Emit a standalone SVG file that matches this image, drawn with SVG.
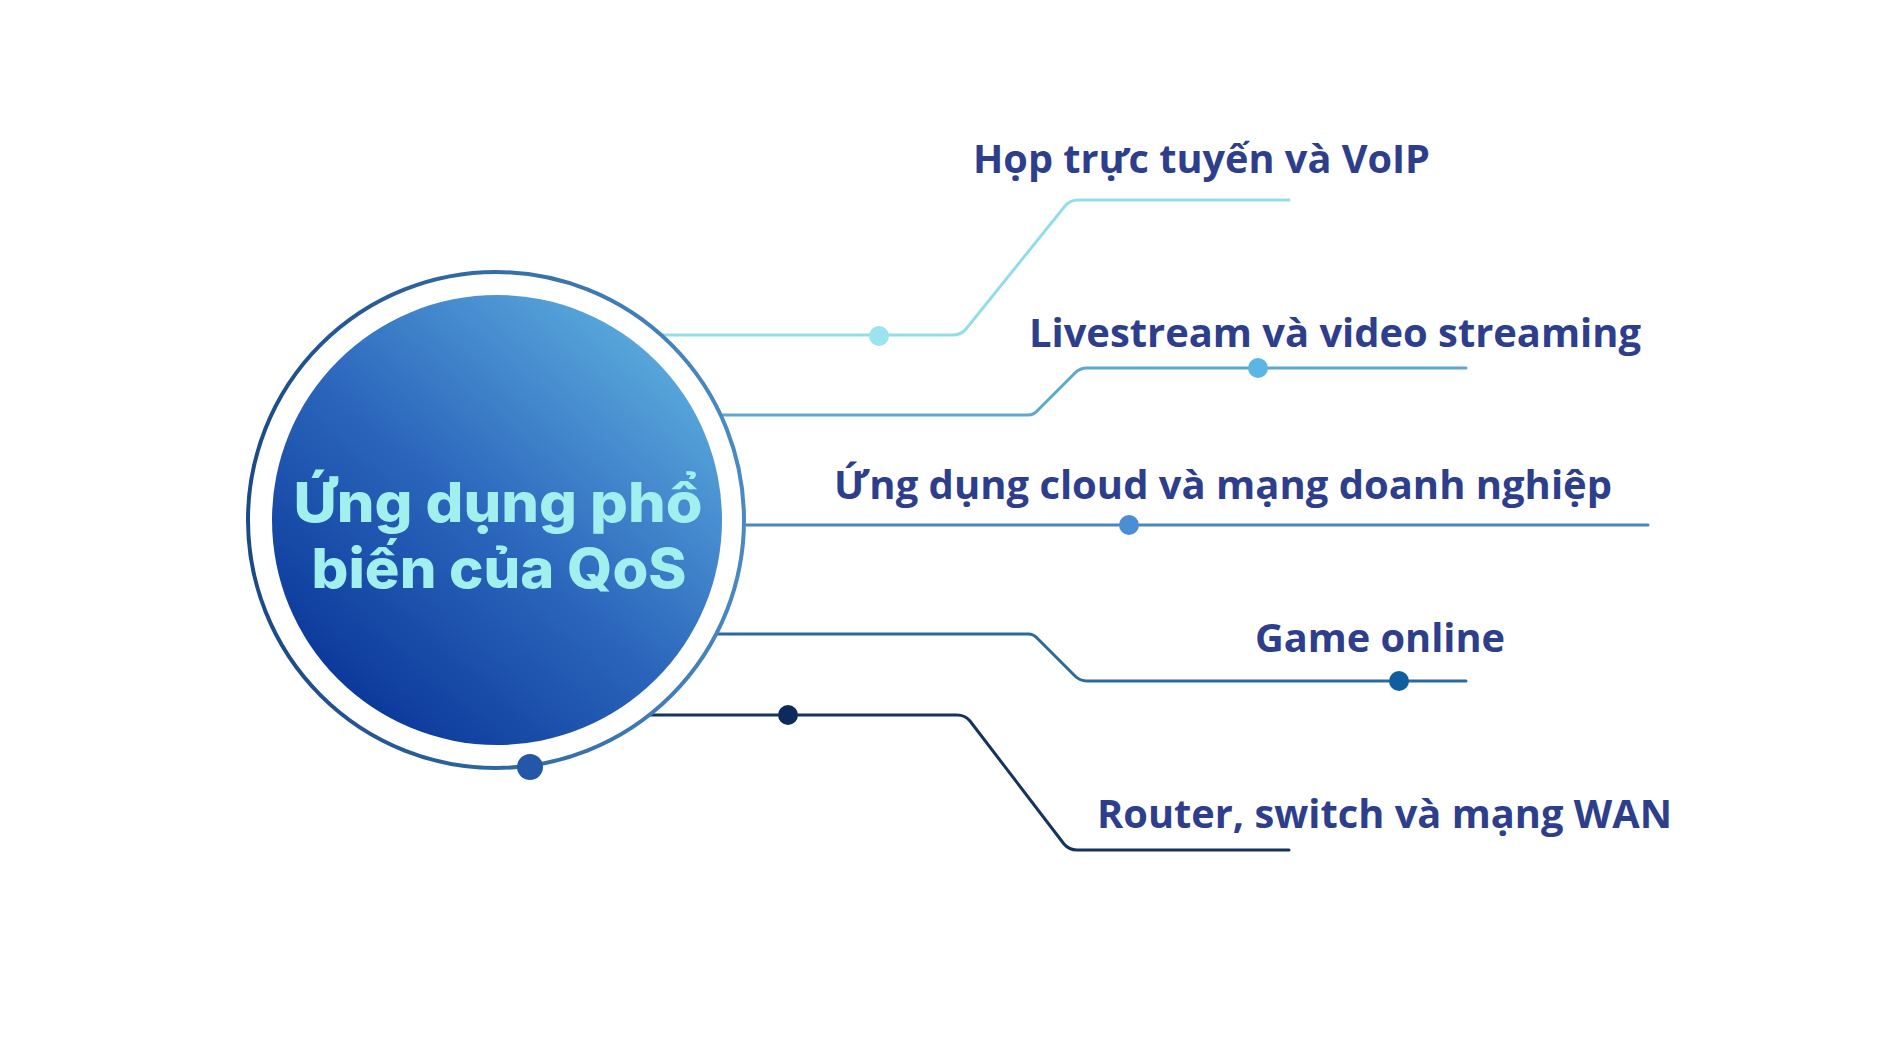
<svg xmlns="http://www.w3.org/2000/svg" width="1896" height="1050" viewBox="0 0 1896 1050">
<defs>
<linearGradient id="fillG" x1="0.85" y1="0.1" x2="0.15" y2="0.9">
<stop offset="0" stop-color="#5aa9dc"/>
<stop offset="0.5" stop-color="#2d68bd"/>
<stop offset="1" stop-color="#0a379a"/>
</linearGradient>
<linearGradient id="ringG" x1="0" y1="0.5" x2="1" y2="0.4">
<stop offset="0" stop-color="#1b4a86"/>
<stop offset="1" stop-color="#4a8ac2"/>
</linearGradient>
<style>
.lbl{font-family:"Open Sans","Liberation Sans",sans-serif;font-weight:700;font-size:40px;fill:#2d3e8c}
.ttl{font-family:Inter,"Open Sans",sans-serif;font-weight:800;font-size:55px;fill:#a2eff0;text-anchor:middle}
.ln{fill:none;stroke-width:3;stroke-linejoin:round;stroke-linecap:round}
</style>
</defs>
<rect width="1896" height="1050" fill="#ffffff"/>
<g id="connectors">
<path class="ln" stroke="#93dde9" d="M663,335 H953 Q961,335 966,329 L1065,206 Q1070,200 1078,200 H1289"/>
<circle cx="879" cy="336" r="10" fill="#9be3ee"/>
<path class="ln" stroke="#5ea7d2" d="M722,415 H1028 Q1034,415 1038,410 L1075,373 Q1080,368 1087,368 H1466"/>
<circle cx="1258" cy="368" r="10" fill="#5cb6e4"/>
<path class="ln" stroke="#4e86b8" d="M745,525 H1648"/>
<circle cx="1129" cy="525" r="10" fill="#4a8fd6"/>
<path class="ln" stroke="#2a6a9c" d="M717,634 H1028 Q1034,634 1038,639 L1075,676 Q1080,681 1087,681 H1466"/>
<circle cx="1399" cy="681" r="10" fill="#0f5e9f"/>
<path class="ln" stroke="#14335f" d="M651,715 H957 Q965,715 970,721 L1064,844 Q1069,850 1077,850 H1289"/>
<circle cx="788" cy="715" r="10" fill="#0c2a5c"/>
</g>
<g id="center">
<circle cx="496" cy="520" r="248" fill="none" stroke="url(#ringG)" stroke-width="4"/>
<circle cx="497" cy="520" r="225" fill="url(#fillG)"/>
<circle cx="530" cy="767" r="13" fill="#2557a8"/>
<text class="ttl" x="498" y="522" textLength="409" lengthAdjust="spacingAndGlyphs">Ứng dụng phổ</text>
<text class="ttl" x="499" y="588" textLength="375" lengthAdjust="spacingAndGlyphs">biến của QoS</text>
</g>
<g id="n1"><text class="lbl" x="973" y="173" textLength="457" lengthAdjust="spacingAndGlyphs">Họp trực tuyến và VoIP</text></g>
<g id="n2"><text class="lbl" x="1029" y="347" textLength="612" lengthAdjust="spacingAndGlyphs">Livestream và video streaming</text></g>
<g id="n3"><text class="lbl" x="834" y="499" textLength="778" lengthAdjust="spacingAndGlyphs">Ứng dụng cloud và mạng doanh nghiệp</text></g>
<g id="n4"><text class="lbl" x="1255" y="652" textLength="250" lengthAdjust="spacingAndGlyphs">Game online</text></g>
<g id="n5"><text class="lbl" x="1097" y="828" textLength="575" lengthAdjust="spacingAndGlyphs">Router, switch và mạng WAN</text></g>
</svg>
